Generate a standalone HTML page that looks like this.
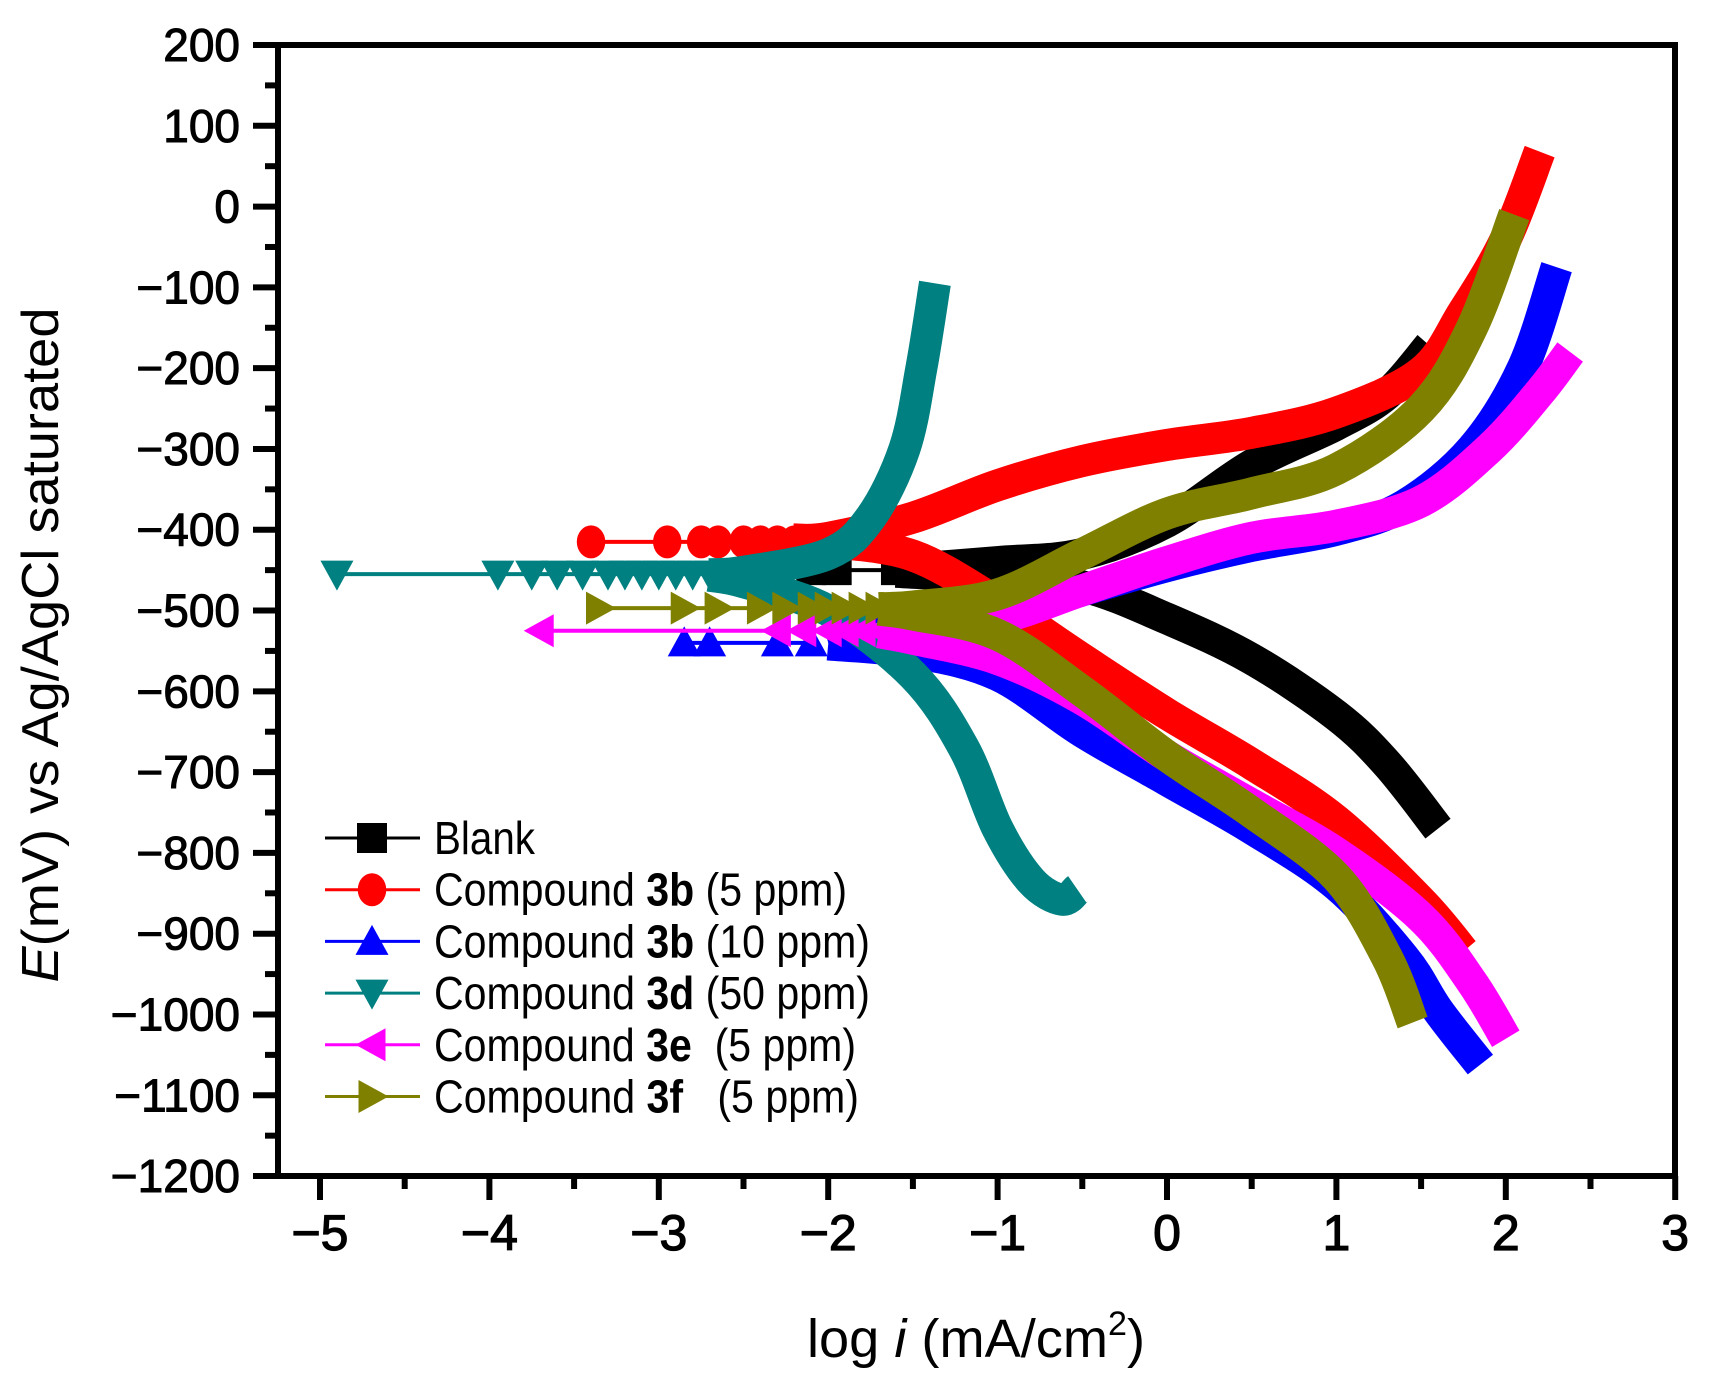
<!DOCTYPE html>
<html><head><meta charset="utf-8">
<style>
html,body{margin:0;padding:0;background:#fff;}
svg{display:block;font-family:"Liberation Sans",Arial,sans-serif;}
</style></head>
<body>
<svg id="s" width="1711" height="1382" viewBox="0 0 1711 1382" xmlns="http://www.w3.org/2000/svg">
<rect width="1711" height="1382" fill="#fff"/>
<g id="curves"></g>
<g id="axes" stroke="#000" stroke-width="6" fill="none"></g>
<g id="labels" font-size="46" fill="#000"></g>
<g id="legend"></g>
<text x="976" y="1357" font-size="54" text-anchor="middle" textLength="338" lengthAdjust="spacingAndGlyphs">log <tspan font-style="italic">i</tspan> (mA/cm<tspan font-size="34" dy="-22">2</tspan><tspan dy="22">)</tspan></text>
<text transform="translate(58,645) rotate(-90)" font-size="52" text-anchor="middle" textLength="675" lengthAdjust="spacingAndGlyphs"><tspan font-style="italic">E</tspan>(mV) vs Ag/AgCl saturated</text>
</svg>
<script>
const NS="http://www.w3.org/2000/svg";
const X=v=>320+(v+5)*169.4, Y=e=>45+(200-e)*0.8079;
function el(t,a,p){const e=document.createElementNS(NS,t);for(const k in a)e.setAttribute(k,a[k]);p.appendChild(e);return e;}
const axes=document.getElementById('axes'), labels=document.getElementById('labels');
el('rect',{x:278,y:45,width:1397,height:1131},axes);
el('line',{x1:253,y1:45,x2:278,y2:45},axes);
el('line',{x1:253,y1:1176,x2:278,y2:1176},axes);
for(let e=200;e>=-1200;e-=50){const y=Y(e);const maj=e%100===0;el('line',{x1:maj?253:265,y1:y,x2:278,y2:y},axes);
 if(maj){const t=el('text',{x:240,y:y+16,'text-anchor':'end','stroke':'#000','stroke-width':1},labels);t.textContent=(e<0?'\u2212':'')+Math.abs(e);}}
for(let v=-5;v<=3;v+=0.5){const x=X(v);const maj=Number.isInteger(v);el('line',{x1:x,y1:1176,x2:x,y2:maj?1200:1189},axes);
 if(maj){const t=el('text',{x:x,y:1250,'text-anchor':'middle','font-size':50,'stroke':'#000','stroke-width':1.2},labels);t.textContent=(v<0?'\u2212':'')+Math.abs(v);}}
function path(pts){const p=pts.map(([a,b])=>[X(a),Y(b)]);let d=`M${p[0][0]},${p[0][1]}`;
 for(let i=0;i<p.length-1;i++){const p0=p[i-1]||p[i],p1=p[i],p2=p[i+1],p3=p[i+2]||p2;
 d+=` C${p1[0]+(p2[0]-p0[0])/6},${p1[1]+(p2[1]-p0[1])/6} ${p2[0]-(p3[0]-p1[0])/6},${p2[1]-(p3[1]-p1[1])/6} ${p2[0]},${p2[1]}`;}return d;}
function marker(type,x,y,c,g,s){s=s||15;
 if(type==='sq')el('rect',{x:x-s,y:y-s,width:2*s,height:2*s,fill:c},g);
 else if(type==='ci')el('ellipse',{cx:x,cy:y,rx:s*0.95,ry:s*1.1,fill:c},g);
 else if(type==='up')el('polygon',{points:`${x},${y-s*1.1} ${x-s*1.1},${y+s*0.9} ${x+s*1.1},${y+s*0.9}`,fill:c},g);
 else if(type==='dn')el('polygon',{points:`${x},${y+s*1.1} ${x-s*1.1},${y-s*0.9} ${x+s*1.1},${y-s*0.9}`,fill:c},g);
 else if(type==='lf')el('polygon',{points:`${x-s*1.1},${y} ${x+s*0.9},${y-s*1.1} ${x+s*0.9},${y+s*1.1}`,fill:c},g);
 else if(type==='rt')el('polygon',{points:`${x+s*1.1},${y} ${x-s*0.9},${y-s*1.1} ${x-s*0.9},${y+s*1.1}`,fill:c},g);}
const series=[
 {c:'#000',m:'sq',e0:-450,mk:[-2.3,-2.1,-1.95,-1.6],start:-2.35,
  an:[[-1.6,-450],[-1,-440],[-0.5,-430],[0,-390],[0.5,-320],[1,-270],[1.3,-232],[1.55,-172]],
  ca:[[-1.6,-452],[-1,-460],[-0.5,-470],[0,-510],[0.5,-560],[1,-630],[1.3,-690],[1.6,-770]]},
 {c:'#f00',m:'ci',e0:-415,mk:[-3.4,-2.95,-2.75,-2.65,-2.5,-2.4,-2.3,-2.2],start:-3.4,
  an:[[-2.2,-412],[-2,-410],[-1.5,-385],[-1,-345],[-0.5,-315],[0,-295],[0.5,-280],[1,-255],[1.5,-205],[1.75,-130],[2,-40],[2.2,68]],
  ca:[[-2.2,-414],[-2,-415],[-1.5,-432],[-1,-490],[-0.5,-560],[0,-628],[0.5,-690],[1,-760],[1.5,-860],[1.75,-922]]},
 {c:'#00f',m:'up',e0:-540,mk:[-2.85,-2.7,-2.3,-2.1],start:-2.85,
  an:[[-2,-540],[-1.5,-512],[-1,-505],[-0.5,-475],[0,-445],[0.5,-420],[1,-400],[1.4,-370],[1.8,-300],[2.1,-200],[2.3,-75]],
  ca:[[-2,-542],[-1.5,-552],[-1,-580],[-0.5,-650],[0,-710],[0.5,-770],[1,-840],[1.4,-930],[1.6,-995],[1.85,-1062]]},
 {c:'#008080',m:'dn',e0:-455,mk:[-4.9,-3.95,-3.75,-3.6,-3.45,-3.3,-3.2,-3.1,-3.0,-2.9,-2.8,-2.7],start:-4.9,
  an:[[-2.7,-455],[-2.5,-452],[-2,-430],[-1.75,-385],[-1.55,-300],[-1.45,-200],[-1.37,-95]],
  ca:[[-2.7,-457],[-2.5,-465],[-2,-500],[-1.5,-580],[-1.2,-670],[-1,-770],[-0.8,-835],[-0.62,-858],[-0.53,-845]]},
 {c:'#f0f',m:'lf',e0:-525,mk:[-3.7,-2.3,-2.15,-2.0,-1.9,-1.8,-1.7],start:-3.7,
  an:[[-1.7,-523],[-1.5,-520],[-1,-510],[-0.5,-475],[0,-440],[0.5,-410],[1,-395],[1.5,-365],[1.9,-300],[2.2,-230],[2.38,-180]],
  ca:[[-1.7,-527],[-1.5,-535],[-1,-560],[-0.5,-610],[0,-680],[0.5,-740],[1,-800],[1.5,-880],[1.8,-960],[2.0,-1030]]},
 {c:'#808000',m:'rt',e0:-497,mk:[-3.35,-2.85,-2.65,-2.4,-2.25,-2.1,-2.0,-1.9,-1.8,-1.7],start:-3.35,
  an:[[-1.7,-497],[-1.5,-495],[-1,-480],[-0.5,-430],[0,-380],[0.5,-355],[1,-325],[1.5,-250],[1.8,-150],[2.05,-10]],
  ca:[[-1.7,-499],[-1.5,-505],[-1,-530],[-0.5,-600],[0,-680],[0.5,-750],[1,-830],[1.3,-930],[1.45,-1010]]}
];
const cg=document.getElementById('curves');
series.forEach(s=>{
 el('line',{x1:X(s.start),y1:Y(s.e0),x2:X(s.mk[s.mk.length-1]),y2:Y(s.e0),stroke:s.c,'stroke-width':4},cg);
 s.mk.forEach(v=>marker(s.m,X(v),Y(s.e0),s.c,cg));
 el('path',{d:path(s.an),stroke:s.c,'stroke-width':32,fill:'none','stroke-linecap':'butt'},cg);
 el('path',{d:path(s.ca),stroke:s.c,'stroke-width':32,fill:'none','stroke-linecap':'butt'},cg);
});
const lg=document.getElementById('legend');
const names=[['Blank','','',101],['Compound ','3b',' (5 ppm)',413],['Compound ','3b',' (10 ppm)',436],['Compound ','3d',' (50 ppm)',436],['Compound ','3e','  (5 ppm)',422],['Compound ','3f','   (5 ppm)',425]];
series.forEach((s,i)=>{const y=838+i*51.7;
 el('line',{x1:325,y1:y,x2:420,y2:y,stroke:s.c,'stroke-width':3},lg);
 marker(s.m,372,y,s.c,lg,15);
 const n=names[i];const t=el('text',{x:434,y:y+16,'font-size':46,textLength:n[3],lengthAdjust:'spacingAndGlyphs'},lg);
 t.setAttribute('style','white-space:pre');
 const a=document.createElementNS(NS,'tspan');a.textContent=n[0];t.appendChild(a);
 if(n[1]){const b=document.createElementNS(NS,'tspan');b.setAttribute('font-weight','bold');b.textContent=n[1];t.appendChild(b);
 const c=document.createElementNS(NS,'tspan');c.textContent=n[2];t.appendChild(c);}
});
</script>
</body></html>
